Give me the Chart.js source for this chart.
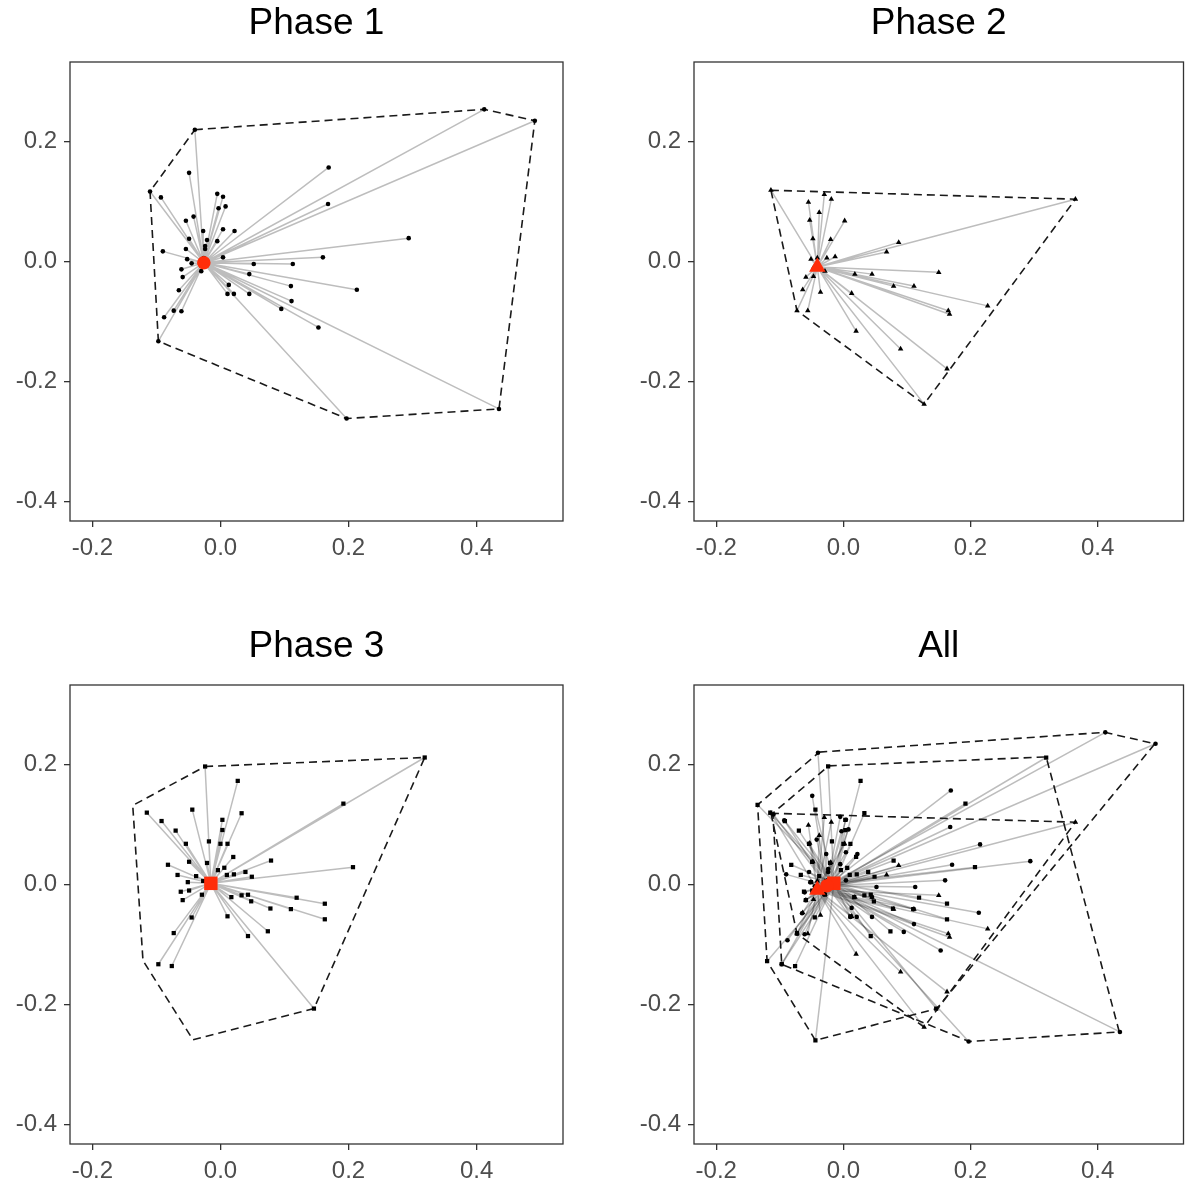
<!DOCTYPE html>
<html>
<head>
<meta charset="utf-8">
<script src="https://cdn.jsdelivr.net/npm/chart.js@4.4.1/dist/chart.umd.min.js"></script>
<style>
  html, body { margin: 0; padding: 0; background: #ffffff; overflow: hidden; }
  body { width: 1193px; height: 1187px; position: relative; }
  canvas { position: absolute; }
</style>
</head>
<body>
<canvas id="c1" width="596" height="563" style="left:0px;top:0px;width:596px;height:563px"></canvas>
<canvas id="c2" width="569" height="563" style="left:624px;top:0px;width:569px;height:563px"></canvas>
<canvas id="c3" width="596" height="563" style="left:0px;top:623px;width:596px;height:563px"></canvas>
<canvas id="c4" width="569" height="563" style="left:624px;top:623px;width:569px;height:563px"></canvas>
<script>
// ---------------- data ----------------
const panelTitles = ['Phase 1', 'Phase 2', 'Phase 3', 'All'];
const xTickValues = [-0.2, 0.0, 0.2, 0.4];
const yTickValues = [-0.4, -0.2, 0.0, 0.2];
const xRange = [-0.235, 0.535];
const yRange = [-0.433, 0.333];

// Phase 1 (circles)
const phase1Centroid = [-0.026, -0.002];
const phase1Hull = [[-0.040, 0.220], [0.412, 0.254], [0.491, 0.235], [0.435, -0.246], [0.197, -0.262], [-0.097, -0.133], [-0.110, 0.117]];
const phase1Points = [
  [-0.040, 0.220], [0.412, 0.254], [0.491, 0.235], [0.435, -0.246], [0.197, -0.262], [-0.097, -0.133], [-0.110, 0.117],
  [0.169, 0.157], [0.168, 0.096], [0.294, 0.039], [0.160, 0.007], [0.113, -0.004], [0.052, -0.004], [0.045, -0.021],
  [0.110, -0.041], [0.213, -0.047], [0.111, -0.066], [0.095, -0.079], [0.153, -0.110], [0.045, -0.054], [0.021, -0.054],
  [0.011, -0.054], [0.013, -0.039], [0.004, 0.007], [0.022, 0.051], [0.004, 0.054], [-0.005, 0.034], [-0.021, 0.036],
  [-0.024, 0.026], [-0.024, 0.021], [-0.026, 0.006], [-0.027, 0.051], [-0.005, 0.113], [0.004, 0.108], [-0.003, 0.089],
  [0.008, 0.092], [-0.049, 0.148], [-0.093, 0.107], [-0.042, 0.075], [-0.054, 0.068], [-0.049, 0.038], [-0.054, 0.021],
  [-0.090, 0.017], [-0.052, 0.004], [-0.045, -0.003], [-0.061, -0.013], [-0.059, -0.026], [-0.030, -0.016], [-0.065, -0.048],
  [-0.073, -0.082], [-0.061, -0.083], [-0.088, -0.093]
];

// Phase 2 (triangles)
const phase2Centroid = [-0.041, -0.009];
const phase2Hull = [[-0.114, 0.119], [0.365, 0.104], [0.127, -0.238], [-0.073, -0.082]];
const phase2Points = [
  [-0.114, 0.119], [0.365, 0.104], [0.127, -0.238], [-0.073, -0.082],
  [-0.030, 0.112], [-0.019, 0.104], [-0.055, 0.099], [-0.038, 0.082], [-0.053, 0.069], [0.002, 0.068], [-0.048, 0.038],
  [-0.020, 0.037], [0.087, 0.032], [0.068, 0.016], [-0.013, 0.008], [-0.026, 0.006], [-0.051, 0.004], [-0.041, 0.006],
  [-0.047, -0.010], [-0.029, -0.016], [0.018, -0.021], [0.045, -0.021], [0.150, -0.018], [0.079, -0.041], [0.111, -0.041],
  [-0.059, -0.026], [-0.047, -0.025], [-0.064, -0.047], [-0.036, -0.051], [0.013, -0.053], [0.227, -0.074], [0.165, -0.082],
  [0.167, -0.088], [-0.056, -0.082], [0.020, -0.116], [0.090, -0.146], [0.163, -0.179]
];

// Phase 3 (squares)
const phase3Centroid = [-0.015, 0.002];
const phase3Hull = [[-0.024, 0.197], [0.319, 0.212], [0.146, -0.207], [-0.043, -0.259], [-0.121, -0.127], [-0.137, 0.132]];
const phase3Points = [
  [-0.024, 0.197], [0.319, 0.212], [0.146, -0.207],
  [0.027, 0.173], [0.033, 0.119], [0.003, 0.108], [0.003, 0.091], [-0.044, 0.125], [-0.115, 0.120], [-0.092, 0.106],
  [-0.070, 0.090], [-0.054, 0.068], [-0.018, 0.072], [0.000, 0.068], [0.011, 0.068], [0.020, 0.046], [-0.049, 0.038],
  [-0.021, 0.036], [0.006, 0.028], [-0.004, 0.024], [0.079, 0.040], [0.192, 0.135], [0.207, 0.029], [-0.082, 0.033],
  [-0.067, 0.016], [-0.038, 0.014], [-0.051, 0.004], [-0.027, 0.006], [0.010, 0.016], [0.021, 0.017], [0.039, 0.021],
  [0.049, 0.013], [-0.062, -0.012], [-0.049, -0.010], [-0.029, -0.017], [-0.059, -0.026], [0.017, -0.021], [0.033, -0.018],
  [0.043, -0.017], [0.048, -0.028], [0.119, -0.022], [0.163, -0.032], [0.078, -0.040], [0.110, -0.041], [0.163, -0.058],
  [0.011, -0.053], [-0.045, -0.055], [0.074, -0.078], [0.043, -0.086], [-0.073, -0.081], [-0.097, -0.133], [-0.076, -0.136]
];

// "All" panel: hulls as drawn there, and the extra points visible only there
const allHullA = [[-0.038, 0.221], [0.411, 0.254], [0.490, 0.235], [0.147, -0.207], [-0.044, -0.260], [-0.120, -0.128], [-0.135, 0.133]];
const allHullB = [[-0.023, 0.198], [0.319, 0.213], [0.434, -0.246], [0.198, -0.262], [-0.097, -0.133], [-0.111, 0.119]];
const allHullC = [[-0.114, 0.119], [0.365, 0.104], [0.127, -0.238], [-0.073, -0.082]];
const allExtraSquares = [[-0.135, 0.133], [-0.120, -0.128], [-0.044, -0.260]];
const allExtraDots = [[0.215, 0.067], [0.171, 0.033]];

// ---------------- helpers ----------------
const FONT = '"Liberation Sans", Arial, Helvetica, sans-serif';
const RED = '#ff2d0a';
const toXY = arr => arr.map(p => ({ x: p[0], y: p[1] }));
function spokes(points, c) {
  const out = [];
  points.forEach(p => {
    out.push({ x: c[0], y: c[1] }, { x: p[0], y: p[1] }, { x: p[0], y: null });
  });
  return out;
}
function spokeDs(points, c) {
  return { type: 'line', data: spokes(points, c), borderColor: 'rgba(0,0,0,0.26)', borderWidth: 1.5,
           pointRadius: 0, fill: false, spanGaps: false, order: 5 };
}
function hullDs(h) {
  const d = toXY(h); d.push({ x: h[0][0], y: h[0][1] });
  return { type: 'line', data: d, borderColor: '#1a1a1a', borderWidth: 1.6, borderDash: [8, 5],
           pointRadius: 0, fill: false, order: 4 };
}
function ptsDs(points, style, r) {
  return { type: 'scatter', data: toXY(points), pointStyle: style, pointRadius: r, pointBorderWidth: 0,
           backgroundColor: '#000', borderColor: '#000', order: 2 };
}
function cenDs(c, style, r) {
  return { type: 'scatter', data: toXY([c]), pointStyle: style, pointRadius: r, pointBorderWidth: 0,
           backgroundColor: RED, borderColor: RED, order: 1 };
}

const frame = {
  id: 'frame',
  afterDatasetsDraw(chart) {
    const a = chart.chartArea, ctx = chart.ctx;
    ctx.save();
    ctx.strokeStyle = '#333333';
    ctx.lineWidth = 1.3;
    ctx.strokeRect(a.left, a.top, a.right - a.left, a.bottom - a.top);
    ctx.restore();
  }
};

function makeChart(id, title, datasets, padRight) {
  const axisCommon = {
    type: 'linear',
    border: { display: false },
    grid: { display: true, drawOnChartArea: false, drawTicks: true, tickLength: 6, color: '#333333', lineWidth: 1.3 },
    ticks: { font: { family: FONT, size: 24 }, color: '#4d4d4d', padding: 7,
             callback: v => Number(v).toFixed(1) }
  };
  return new Chart(document.getElementById(id), {
    type: 'scatter',
    data: { datasets },
    options: {
      responsive: false,
      animation: false,
      layout: { padding: { left: 10, right: padRight, top: 0, bottom: 0 } },
      plugins: {
        legend: { display: false },
        tooltip: { enabled: false },
        title: { display: true, text: title, fullSize: false, color: '#000',
                 font: { family: FONT, size: 37, weight: 'normal', lineHeight: 1 },
                 padding: { top: 5, bottom: 20 } }
      },
      scales: {
        x: Object.assign({}, axisCommon, {
          min: xRange[0], max: xRange[1],
          afterBuildTicks: s => { s.ticks = xTickValues.map(v => ({ value: v })); },
          afterFit: s => { s.height = 42; }
        }),
        y: Object.assign({}, axisCommon, {
          min: yRange[0], max: yRange[1],
          afterBuildTicks: s => { s.ticks = yTickValues.map(v => ({ value: v })); },
          afterFit: s => { s.width = 60; }
        })
      }
    },
    plugins: [frame]
  });
}

makeChart('c1', panelTitles[0], [
  spokeDs(phase1Points, phase1Centroid), hullDs(phase1Hull),
  ptsDs(phase1Points, 'circle', 2.3), cenDs(phase1Centroid, 'circle', 6.8)
], 33);

makeChart('c2', panelTitles[1], [
  spokeDs(phase2Points, phase2Centroid), hullDs(phase2Hull),
  ptsDs(phase2Points, 'triangle', 3.2), cenDs(phase2Centroid, 'triangle', 9.5)
], 3);

makeChart('c3', panelTitles[2], [
  spokeDs(phase3Points, phase3Centroid), hullDs(phase3Hull),
  ptsDs(phase3Points, 'rect', 3), cenDs(phase3Centroid, 'rect', 9.5)
], 33);

makeChart('c4', panelTitles[3], [
  spokeDs(phase1Points.concat(allExtraDots), phase1Centroid),
  spokeDs(phase2Points, phase2Centroid),
  spokeDs(phase3Points.concat(allExtraSquares), phase3Centroid),
  hullDs(allHullA), hullDs(allHullB), hullDs(allHullC),
  ptsDs(phase1Points.concat(allExtraDots), 'circle', 2.3),
  ptsDs(phase2Points, 'triangle', 3.2),
  ptsDs(phase3Points.concat(allExtraSquares), 'rect', 3),
  cenDs(phase1Centroid, 'circle', 6.8), cenDs(phase2Centroid, 'triangle', 9.5), cenDs(phase3Centroid, 'rect', 9.5)
], 3);
</script>
</body>
</html>
